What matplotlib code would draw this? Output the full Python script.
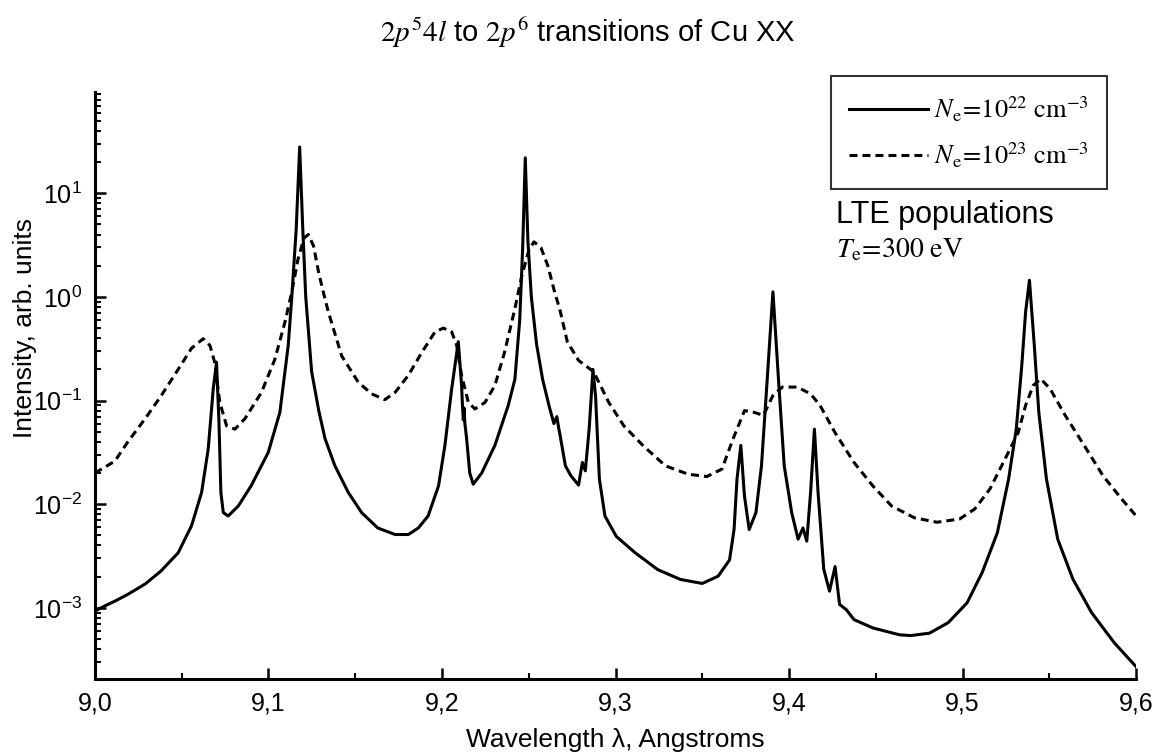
import matplotlib
matplotlib.use('Agg')
import matplotlib.pyplot as plt
from matplotlib.ticker import LogLocator, FixedLocator, FixedFormatter, NullFormatter

plt.rcParams['font.family'] = ['Liberation Sans', 'DejaVu Sans']
plt.rcParams['mathtext.fontset'] = 'stix'

# solid curve, Ne = 1e22 cm^-3
wl_22 = [9.000, 9.006, 9.0115, 9.019, 9.029, 9.038, 9.048, 9.0557, 9.0615, 9.0653, 9.0682, 9.0701,
         9.0715, 9.0726, 9.074, 9.0768, 9.0826, 9.090, 9.0999, 9.1066, 9.1114, 9.1134, 9.116,
         9.118, 9.1198, 9.1215, 9.1249, 9.129, 9.1326, 9.1383, 9.146, 9.1537, 9.163, 9.173,
         9.1806, 9.1864, 9.192, 9.198, 9.2017, 9.2056, 9.2094, 9.2113, 9.2118, 9.2123, 9.2127,
         9.2132, 9.2142, 9.216, 9.218, 9.2229, 9.2305, 9.2382, 9.242, 9.2448, 9.2465, 9.248,
         9.2495, 9.2515, 9.2545, 9.258, 9.262, 9.2645, 9.2662, 9.2672, 9.2678, 9.2711, 9.2743,
         9.2787, 9.2809, 9.2826, 9.2848, 9.287, 9.2885, 9.2907, 9.2939, 9.3004, 9.3113, 9.3243,
         9.3374, 9.350, 9.3591, 9.3657, 9.3683, 9.370, 9.3722, 9.3743, 9.377, 9.3809, 9.3841,
         9.3874, 9.3907, 9.3939, 9.3972, 9.4015, 9.4052, 9.408, 9.4102, 9.4124, 9.4146, 9.4167,
         9.420, 9.4233, 9.4265, 9.4291, 9.433, 9.4374, 9.4483, 9.4635, 9.470, 9.4809, 9.4917,
         9.5026, 9.5113, 9.520, 9.5265, 9.5309, 9.5341, 9.5363, 9.5385, 9.5413, 9.5439, 9.5483,
         9.5548, 9.5635, 9.5743, 9.5874, 9.600]
int_22 = [9.3e-4, 1.05e-3, 1.16e-3, 1.35e-3, 1.7e-3, 2.26e-3, 3.4e-3, 6.2e-3, 1.3e-2, 3.4e-2, 0.13, 0.235,
          0.062, 0.013, 8.3e-3, 7.7e-3, 9.6e-3, 0.015, 0.0316, 0.077, 0.34, 0.96, 4.5,
          28.0, 4.5, 1.0, 0.19, 0.08, 0.043, 0.0235, 0.013, 8.3e-3, 5.9e-3, 5.1e-3,
          5.1e-3, 5.9e-3, 7.7e-3, 0.015, 0.037, 0.13, 0.37, 0.14, 0.09, 0.065, 0.085,
          0.06, 0.043, 0.02, 0.0156, 0.02, 0.037, 0.09, 0.16, 0.6, 3.0, 22.0,
          3.5, 1.0, 0.35, 0.16, 0.085, 0.06, 0.07, 0.055, 0.049, 0.0235, 0.0188,
          0.0153, 0.0253, 0.021, 0.053, 0.2, 0.11, 0.0175, 7.7e-3, 4.9e-3, 3.4e-3, 2.34e-3,
          1.88e-3, 1.72e-3, 2.02e-3, 2.9e-3, 5.7e-3, 0.0175, 0.037, 0.012, 5.7e-3, 8.3e-3, 0.0235,
          0.16, 1.12, 0.16, 0.0235, 8.3e-3, 4.6e-3, 5.9e-3, 4.4e-3, 0.013, 0.053, 0.013,
          2.35e-3, 1.45e-3, 2.5e-3, 1.08e-3, 9.6e-4, 7.7e-4, 6.4e-4, 5.5e-4, 5.4e-4, 5.7e-4, 7.2e-4,
          1.12e-3, 2.2e-3, 5.3e-3, 0.0175, 0.053, 0.22, 0.72, 1.45, 0.34, 0.077, 0.0175,
          4.6e-3, 1.9e-3, 9e-4, 4.6e-4, 2.7e-4]

# dashed curve, Ne = 1e23 cm^-3
wl_23 = [9.000, 9.0115, 9.019, 9.029, 9.038, 9.048, 9.0557, 9.0624, 9.0663, 9.069, 9.072, 9.0759,
         9.0807, 9.0865, 9.096, 9.1037, 9.1095, 9.1134, 9.117, 9.1205, 9.123, 9.126, 9.129,
         9.132, 9.1345, 9.1422, 9.1518, 9.1595, 9.1671, 9.173, 9.1806, 9.1883, 9.196, 9.2008,
         9.2056, 9.2085, 9.2113, 9.2152, 9.219, 9.2248, 9.2305, 9.236, 9.242, 9.246, 9.250,
         9.253, 9.257, 9.261, 9.265, 9.2678, 9.2722, 9.2787, 9.2874, 9.2961, 9.3048, 9.3157,
         9.3287, 9.3417, 9.3526, 9.3613, 9.3678, 9.3743, 9.3798, 9.3852, 9.3907, 9.3961, 9.4048,
         9.4124, 9.4178, 9.4265, 9.4374, 9.4483, 9.4591, 9.4722, 9.4852, 9.4983, 9.507, 9.5157,
         9.5243, 9.532, 9.5363, 9.5407, 9.545, 9.5504, 9.5591, 9.570, 9.5809, 9.5917, 9.600]
int_23 = [0.02, 0.026, 0.04, 0.067, 0.11, 0.2, 0.32, 0.395, 0.34, 0.235, 0.096, 0.057,
          0.053, 0.067, 0.12, 0.25, 0.57, 1.1, 2.3, 3.7, 4.0, 3.1, 1.7,
          1.05, 0.72, 0.27, 0.15, 0.116, 0.102, 0.12, 0.175, 0.29, 0.46, 0.5,
          0.46, 0.34, 0.175, 0.096, 0.083, 0.096, 0.14, 0.29, 0.77, 1.6, 2.8,
          3.4, 3.0, 2.0, 1.1, 0.77, 0.37, 0.244, 0.19, 0.096, 0.057, 0.037,
          0.0235, 0.0195, 0.0185, 0.0218, 0.043, 0.08, 0.077, 0.072, 0.112, 0.135, 0.135,
          0.116, 0.09, 0.049, 0.0253, 0.015, 0.0096, 0.0074, 0.0067, 0.0072, 0.009, 0.014,
          0.027, 0.049, 0.09, 0.14, 0.162, 0.13, 0.072, 0.037, 0.0188, 0.0112, 0.0077]

x_ticks = [9.0, 9.1, 9.2, 9.3, 9.4, 9.5, 9.6]
x_tick_labels = ['9,0', '9,1', '9,2', '9,3', '9,4', '9,5', '9,6']

fig = plt.figure(figsize=(11.57, 7.55), dpi=100)
ax = fig.add_axes([0.082, 0.1007, 0.9, 0.7775])

ax.plot(wl_22, int_22, color='black', lw=2.2,
        label=r'$N_\mathrm{e}\!=\!10^{22}\ \mathrm{cm}^{-3}$')
ax.plot(wl_23, int_23, color='black', lw=2.2, dashes=(2.6, 1.65),
        label=r'$N_\mathrm{e}\!=\!10^{23}\ \mathrm{cm}^{-3}$')

ax.set_yscale('log')
ax.set_xlim(9.0, 9.6)
ax.set_ylim(2.06e-4, 95)

ax.xaxis.set_major_locator(FixedLocator(x_ticks))
ax.xaxis.set_major_formatter(FixedFormatter(x_tick_labels))
ax.xaxis.set_minor_locator(FixedLocator([9.05, 9.15, 9.25, 9.35, 9.45, 9.55]))
ax.yaxis.set_major_locator(LogLocator(base=10, numticks=10))
ax.yaxis.set_minor_locator(LogLocator(base=10, subs=range(2, 10), numticks=20))
ax.yaxis.set_minor_formatter(NullFormatter())

ax.tick_params(which='major', direction='in', length=8, width=1.8, labelsize=18, pad=9)
ax.tick_params(which='minor', direction='in', length=4.5, width=1.5)
ax.spines['top'].set_visible(False)
ax.spines['right'].set_visible(False)
ax.spines['left'].set_linewidth(2.2)
ax.spines['bottom'].set_linewidth(2.2)

# axis titles placed in figure pixels, as in the reference
fig.text(615 / 1157, 1 - 740 / 755, 'Wavelength λ, Angstroms', fontsize=19,
         ha='center', va='center')
fig.text(25 / 1157, 1 - 328 / 755, 'Intensity, arb. units', fontsize=19,
         ha='center', va='center', rotation=90)

fig.text(0.508, 1 - 33 / 755, r'$2p^{5}4l$ to $2p^{6}$ transitions of Cu XX',
         ha='center', va='center', fontsize=21)

leg = ax.legend(loc='upper right', bbox_to_anchor=(1107 / 1157, 1 - 76 / 755),
                bbox_transform=fig.transFigure, fontsize=19, frameon=True, fancybox=False,
                handlelength=3.0, handletextpad=0.2, borderpad=0.7, labelspacing=0.65,
                borderaxespad=0)
leg.get_frame().set_edgecolor('black')
leg.get_frame().set_linewidth(1.5)

fig.text(836 / 1157, 1 - 215 / 755, 'LTE populations', fontsize=22, va='center')
fig.text(836 / 1157, 1 - 250 / 755, r'$T_\mathrm{e}\!=\!300\ \mathrm{eV}$', fontsize=20, va='center')

fig.savefig('out.png', dpi=100)
